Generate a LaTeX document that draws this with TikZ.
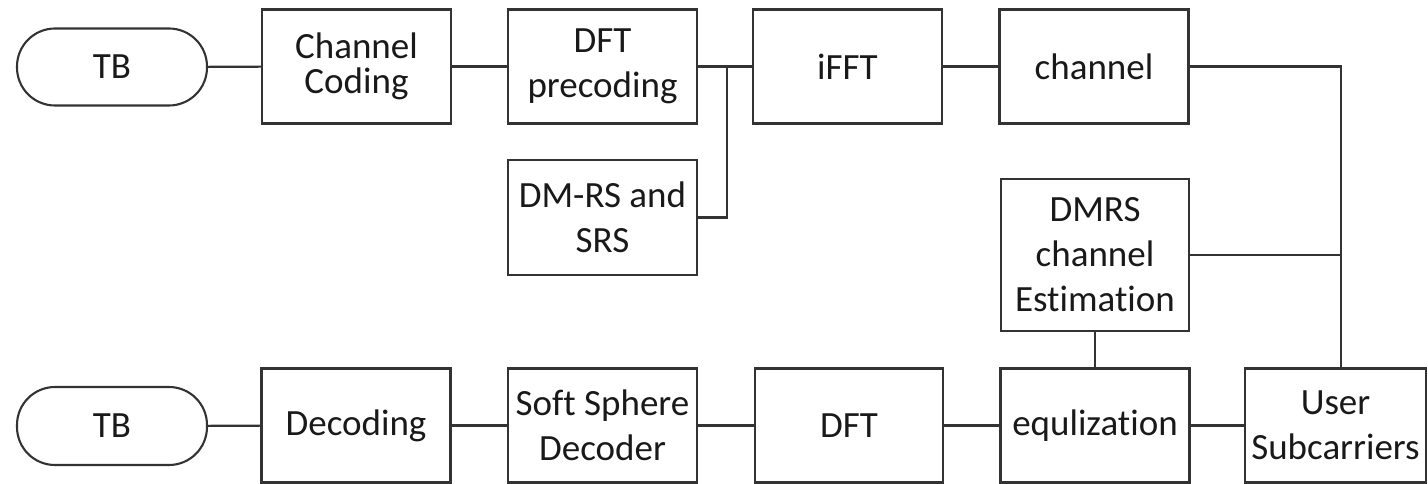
\documentclass[tikz,border=0pt]{standalone}
\usepackage{fontspec}
\setmainfont{Carlito}[Ligatures={NoCommon}]
\begin{document}
\begin{tikzpicture}[x=1pt,y=-1pt,line width=2.1pt,
  every node/.style={font=\fontsize{37}{45}\selectfont,text=black!90},
  box/.style={draw=black!80,rectangle,minimum width=189pt,minimum height=114pt,inner sep=0pt,align=center},
  term/.style={draw=black!80,rectangle,rounded corners=38pt,minimum width=190pt,minimum height=77pt,inner sep=0pt},
  conn/.style={draw=black!80}]
\useasboundingbox (0,0) rectangle (1428,484);
% top row
\node[term] (tb1) at (112,67) {TB};
\node[box,font=\fontsize{37}{35}\selectfont] (cc) at (356.5,66.5) {Channel\\Coding};
\node[box] (dftp) at (602.5,66.5) {DFT\\precoding};
\node[box] (ifft) at (847.5,66.5) {iFFT};
\node[box] (chan) at (1094,66.5) {channel};
\node[box,minimum height=115pt] (dmrs) at (602.5,217.5) {DM-RS and\\SRS};
\node[box,minimum width=188pt,minimum height=152pt] (est) at (1095,255) {DMRS\\channel\\Estimation};
% bottom row
\node[term,minimum height=78pt] (tb2) at (112,426) {TB};
\node[box] (dec) at (356,425.5) {Decoding};
\node[box] (ssd) at (602.5,425.5) {Soft Sphere\\Decoder};
\node[box,minimum width=188pt] (dft) at (849,425.5) {DFT};
\node[box] (equ) at (1095,425.5) {equlization};
\node[box,minimum width=181pt] (us) at (1335.5,425.5) {User\\Subcarriers};
% connectors
\coordinate (j) at (727,66.5);
\coordinate (v) at (1341,66.5);
\draw[conn] (tb1) -- (cc);
\draw[conn] (cc) -- (dftp);
\draw[conn] (dftp.east) -- (ifft.west);
\draw[conn] (dmrs.east) -| (j);
\draw[conn] (ifft) -- (chan);
\draw[conn] (chan.east) -- (v) -- ([xshift=5.5pt]us.north);
\draw[conn] (est.east) -- (est.east -| v);
\draw[conn] (est.south) -- (equ.north);
\draw[conn] (tb2) -- (dec);
\draw[conn] (dec) -- (ssd);
\draw[conn] (ssd) -- (dft);
\draw[conn] (dft) -- (equ);
\draw[conn] (equ) -- (us);
\end{tikzpicture}
\end{document}
